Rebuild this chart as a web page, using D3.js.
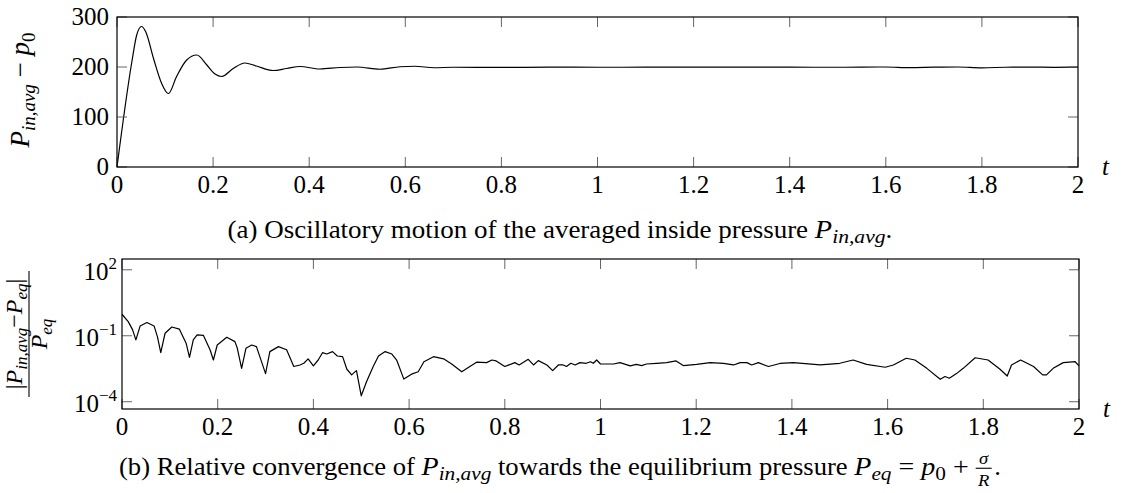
<!DOCTYPE html>
<html>
<head>
<meta charset="utf-8">
<script src="https://cdn.jsdelivr.net/npm/d3@7"></script>
<style>
  body { margin: 0; background: #fff; }
  text { font-family: "Liberation Serif", "DejaVu Serif", serif; fill: #000; }
  .math { font-style: italic; }
</style>
</head>
<body>
<svg id="mainContainer"></svg>
<script>
/* global d3 */

// top panel: averaged inside pressure minus p0
var tTop = [0, 0.031, 0.041, 0.051, 0.06, 0.076, 0.093, 0.107, 0.124, 0.145, 0.166, 0.187, 0.204, 0.218,
  0.242, 0.266, 0.29, 0.325, 0.353, 0.381, 0.422, 0.464, 0.5, 0.547, 0.589, 0.62, 0.66, 0.7, 0.8, 0.9,
  1.0, 1.1, 1.2, 1.3, 1.4, 1.5, 1.6, 1.65, 1.7, 1.75, 1.8, 1.85, 1.9, 1.95, 2.0];
var pTop = [0, 211, 264, 281, 270, 217, 167, 147, 181, 214, 224, 204, 186, 181,
  197, 208, 202, 193, 197, 201, 196, 199, 200, 195.5, 200.5, 201.5, 198.5, 199.5, 199.3, 199.6,
  199.5, 199.6, 199.8, 199.7, 199.6, 199.5, 200, 198.8, 199.6, 200, 198.4, 199.5, 199.8, 199.4, 199.8];

// bottom panel: relative error
var tBot = [0, 0.013, 0.022, 0.029, 0.038, 0.052, 0.067, 0.074, 0.081, 0.09, 0.104, 0.12, 0.134, 0.141,
  0.149, 0.157, 0.17, 0.184, 0.191, 0.199, 0.219, 0.236, 0.241, 0.25, 0.259, 0.271, 0.281, 0.30, 0.309,
  0.327, 0.344, 0.359, 0.372, 0.38, 0.389, 0.40, 0.41, 0.419, 0.428, 0.44, 0.45, 0.461, 0.47, 0.48,
  0.485, 0.49, 0.50, 0.511, 0.525, 0.536, 0.55, 0.564, 0.574, 0.589, 0.605, 0.619, 0.631, 0.651,
  0.672, 0.689, 0.710, 0.727, 0.741, 0.762, 0.773, 0.782, 0.80, 0.821, 0.83, 0.849, 0.86, 0.87,
  0.888, 0.90, 0.912, 0.922, 0.929, 0.938, 0.947, 0.957, 0.97, 0.979, 0.985, 0.992, 1.0, 1.027,
  1.041, 1.062, 1.075, 1.086, 1.096, 1.117, 1.138, 1.158, 1.173, 1.201, 1.229, 1.257, 1.278, 1.292,
  1.306, 1.316, 1.33, 1.351, 1.375, 1.403, 1.459, 1.50, 1.528, 1.556, 1.595, 1.612, 1.639, 1.657,
  1.682, 1.71, 1.72, 1.729, 1.744, 1.758, 1.783, 1.81, 1.835, 1.85, 1.859, 1.878, 1.905, 1.924,
  1.932, 1.946, 1.967, 1.992, 2.0];
var eBot = [0.95, 0.44, 0.19, 0.065, 0.28, 0.40, 0.28, 0.091, 0.017, 0.13, 0.25, 0.20, 0.046, 0.0105,
  0.065, 0.11, 0.105, 0.023, 0.0079, 0.038, 0.085, 0.054, 0.027, 0.0033, 0.027, 0.038, 0.032, 0.0019, 0.019,
  0.032, 0.023, 0.004, 0.0047, 0.0056, 0.0089, 0.0043, 0.0079, 0.017, 0.0148, 0.019, 0.012, 0.0112, 0.003, 0.00166,
  0.0021, 0.0026, 0.000186, 0.00081, 0.004, 0.012, 0.019, 0.0148, 0.0079, 0.00107, 0.0018, 0.0023, 0.0066, 0.0112,
  0.0089, 0.0052, 0.0023, 0.004, 0.0063, 0.006, 0.0079, 0.0072, 0.004, 0.006, 0.0047, 0.0085, 0.0047, 0.0074,
  0.0047, 0.0026, 0.0047, 0.0047, 0.004, 0.0056, 0.0047, 0.006, 0.0056, 0.0066, 0.0056, 0.0079, 0.0052, 0.0052,
  0.006, 0.0043, 0.005, 0.0044, 0.0052, 0.0056, 0.006, 0.0072, 0.0044, 0.005, 0.006, 0.0056, 0.0047, 0.006,
  0.006, 0.0047, 0.006, 0.004, 0.0055, 0.006, 0.0047, 0.0056, 0.0079, 0.005, 0.0037, 0.0047, 0.0095, 0.0079,
  0.0033, 0.00105, 0.0014, 0.00117, 0.0019, 0.0033, 0.01, 0.0079, 0.003, 0.00148, 0.0047, 0.0079, 0.004, 0.00166,
  0.00166, 0.0033, 0.006, 0.0066, 0.0043];

var xTicks = [0, 0.2, 0.4, 0.6, 0.8, 1, 1.2, 1.4, 1.6, 1.8, 2];
var yTicksTop = [0, 100, 200, 300];
var yTicksBot = [2, -1, -4]; // exponents

var svgWidth = 1121;
var svgHeight = 493;
var tickLen = 10;
var tickFont = 25;

var svg = d3.select('#mainContainer')
    .attr('width', svgWidth)
    .attr('height', svgHeight);

function frame(g, x, y, xt, yt) {
  var x0 = x.range()[0], x1 = x.range()[1];
  var y0 = y.range()[0], y1 = y.range()[1];
  var ticks = g.append('g').attr('stroke', '#555').attr('stroke-width', 0.9);
  xt.forEach(function(v){
    ticks.append('line').attr('x1', x(v)).attr('x2', x(v)).attr('y1', y0).attr('y2', y0 - tickLen);
    ticks.append('line').attr('x1', x(v)).attr('x2', x(v)).attr('y1', y1).attr('y2', y1 + tickLen);
  });
  yt.forEach(function(v){
    ticks.append('line').attr('x1', x0).attr('x2', x0 + tickLen).attr('y1', y(v)).attr('y2', y(v));
    ticks.append('line').attr('x1', x1).attr('x2', x1 - tickLen).attr('y1', y(v)).attr('y2', y(v));
  });
  g.append('rect')
    .attr('x', x0).attr('y', y1)
    .attr('width', x1 - x0).attr('height', y0 - y1)
    .attr('fill', 'none').attr('stroke', '#000').attr('stroke-width', 1.2);
  g.selectAll('.xlab').data(xt).enter().append('text')
    .attr('x', function(d){ return x(d); })
    .attr('y', y0 + 26)
    .attr('text-anchor', 'middle')
    .attr('font-size', tickFont)
    .text(function(d){ return d3.format('')(d); });
  g.append('text').attr('class', 'math')
    .attr('x', x1 + 24).attr('y', y0 + 8)
    .attr('font-size', 25)
    .text('t');
}

// ---------- top panel ----------
var xTop = d3.scaleLinear().domain([0, 2]).range([117, 1078]);
var yTop = d3.scaleLinear().domain([0, 300]).range([167, 17]);
var gTop = svg.append('g');

gTop.append('path')
  .datum(d3.range(tTop.length))
  .attr('fill', 'none').attr('stroke', '#000').attr('stroke-width', 1.2)
  .attr('d', d3.line()
    .x(function(i){ return xTop(tTop[i]); })
    .y(function(i){ return yTop(pTop[i]); })
    .curve(d3.curveMonotoneX));

frame(gTop, xTop, yTop, xTicks, yTicksTop);

gTop.selectAll('.ylab').data(yTicksTop).enter().append('text')
  .attr('x', 109).attr('y', function(d){ return yTop(d) + 8; })
  .attr('text-anchor', 'end').attr('font-size', tickFont)
  .text(function(d){ return d; });

var ylTop = gTop.append('text').attr('class', 'math')
  .attr('transform', 'translate(29,90) rotate(-90)')
  .attr('text-anchor', 'middle').attr('font-size', 27);
ylTop.append('tspan').text('P');
ylTop.append('tspan').attr('font-size', 19).attr('dy', 6).text('in,avg');
ylTop.append('tspan').attr('dy', -6).attr('font-style', 'normal').text(' \u2212 ');
ylTop.append('tspan').text('p');
ylTop.append('tspan').attr('font-size', 19).attr('dy', 6).attr('font-style', 'normal').text('0');

// ---------- bottom panel ----------
var xBot = d3.scaleLinear().domain([0, 2]).range([122, 1079]);
var yBot = d3.scaleLog().domain([Math.pow(10, -4.33), Math.pow(10, 2.49)]).range([409, 259]);
var gBot = svg.append('g');

gBot.append('path')
  .datum(d3.range(tBot.length))
  .attr('fill', 'none').attr('stroke', '#000').attr('stroke-width', 1.2)
  .attr('stroke-linejoin', 'round')
  .attr('d', d3.line()
    .x(function(i){ return xBot(tBot[i]); })
    .y(function(i){ return yBot(eBot[i]); }));

frame(gBot, xBot, yBot, xTicks, yTicksBot.map(function(e){ return Math.pow(10, e); }));

yTicksBot.forEach(function(e){
  var t = gBot.append('text')
    .attr('x', 117).attr('y', yBot(Math.pow(10, e)) + 10)
    .attr('text-anchor', 'end').attr('font-size', tickFont);
  t.append('tspan').text('10');
  t.append('tspan').attr('font-size', 17).attr('dy', -11).text(e < 0 ? '\u2212' + (-e) : e);
});

var ylBot = gBot.append('g').attr('transform', 'translate(29,334) rotate(-90)');
var num = ylBot.append('text').attr('class', 'math')
  .attr('x', 0).attr('y', -7).attr('text-anchor', 'middle').attr('font-size', 24);
num.append('tspan').attr('font-style', 'normal').text('|');
num.append('tspan').text('P');
num.append('tspan').attr('font-size', 17).attr('dy', 5).text('in,avg');
num.append('tspan').attr('dy', -5).attr('font-style', 'normal').text('\u2212');
num.append('tspan').text('P');
num.append('tspan').attr('font-size', 17).attr('dy', 5).text('eq');
num.append('tspan').attr('dy', -5).attr('font-style', 'normal').text('|');
ylBot.append('line').attr('x1', -63).attr('x2', 63).attr('y1', 0).attr('y2', 0)
  .attr('stroke', '#000').attr('stroke-width', 1.1);
var den = ylBot.append('text').attr('class', 'math')
  .attr('x', 0).attr('y', 18).attr('text-anchor', 'middle').attr('font-size', 24);
den.append('tspan').text('P');
den.append('tspan').attr('font-size', 17).attr('dy', 5).text('eq');

// ---------- captions ----------
function caption(y, target, build) {
  var g = svg.append('g');
  var inner = g.append('g');
  build(inner);
  var bb = inner.node().getBBox();
  var s = target / bb.width;
  g.attr('transform', 'translate(' + (560 - target / 2 - bb.x * s) + ',' + y + ') scale(' + s + ',' + (s * 0.92) + ')');
}

caption(238, 665, function(g){
  var t = g.append('text').attr('font-size', 20);
  t.append('tspan').text('(a) Oscillatory motion of the averaged inside pressure ');
  t.append('tspan').attr('class', 'math').attr('font-size', 21).text('P');
  t.append('tspan').attr('class', 'math').attr('font-size', 16).attr('dy', 4).text('in,avg');
  t.append('tspan').attr('dy', -4).text('.');
});

caption(475, 882, function(g){
  var t = g.append('text').attr('font-size', 20);
  t.append('tspan').text('(b) Relative convergence of ');
  t.append('tspan').attr('class', 'math').attr('font-size', 21).text('P');
  t.append('tspan').attr('class', 'math').attr('font-size', 16).attr('dy', 4).text('in,avg');
  t.append('tspan').attr('dy', -4).text(' towards the equilibrium pressure ');
  t.append('tspan').attr('class', 'math').attr('font-size', 21).text('P');
  t.append('tspan').attr('class', 'math').attr('font-size', 16).attr('dy', 4).text('eq');
  t.append('tspan').attr('dy', -4).attr('font-size', 21).text(' = ');
  t.append('tspan').attr('class', 'math').attr('font-size', 21).text('p');
  t.append('tspan').attr('font-size', 16).attr('dy', 4).text('0');
  t.append('tspan').attr('dy', -4).attr('font-size', 21).text(' +');
  var w = t.node().getComputedTextLength();
  var fx = w + 11;
  g.append('text').attr('class', 'math').attr('font-size', 14)
    .attr('x', fx).attr('y', -9).attr('text-anchor', 'middle').text('\u03c3');
  g.append('line').attr('x1', fx - 6).attr('x2', fx + 6).attr('y1', -5.5).attr('y2', -5.5)
    .attr('stroke', '#000').attr('stroke-width', 0.9);
  g.append('text').attr('class', 'math').attr('font-size', 14)
    .attr('x', fx).attr('y', 9).attr('text-anchor', 'middle').text('R');
  g.append('text').attr('font-size', 20).attr('x', fx + 8).attr('y', 0).text('.');
});
</script>
</body>
</html>
